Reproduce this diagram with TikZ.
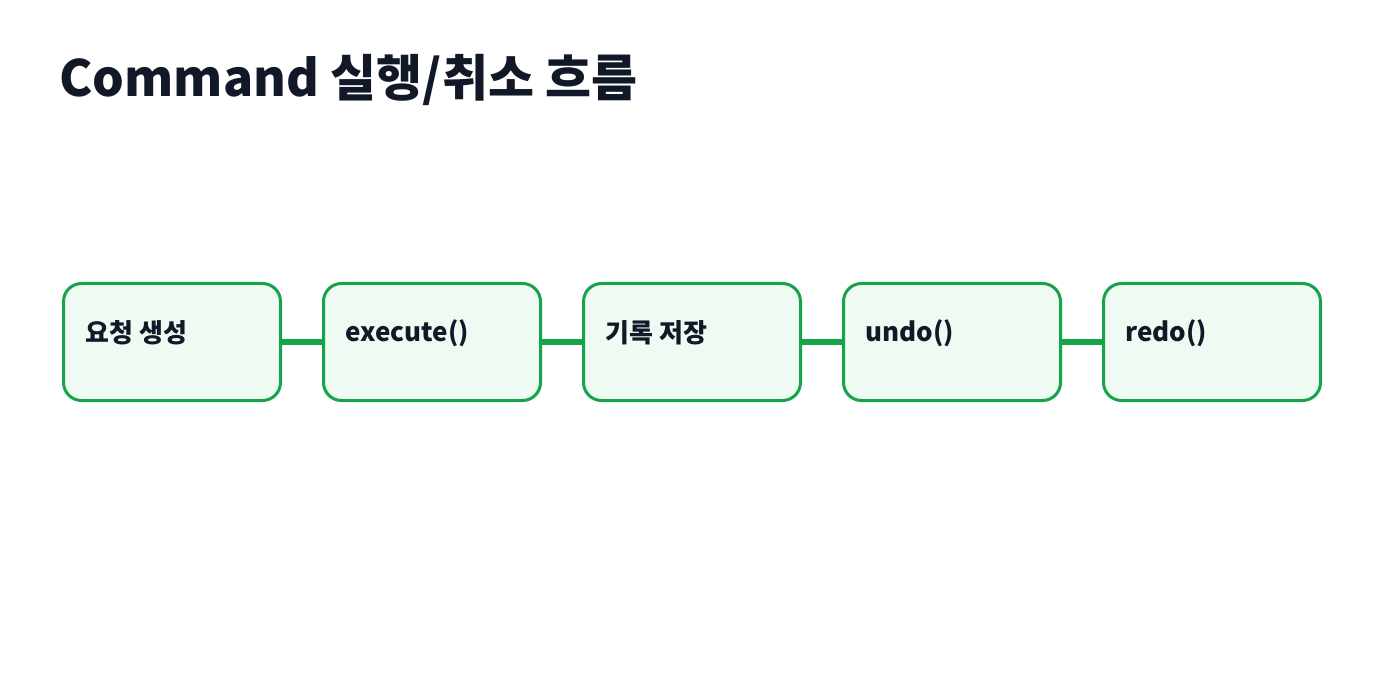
\documentclass[tikz,border=0pt]{standalone}
\usepackage{fontspec}
\setmainfont{Noto Sans CJK KR}
\definecolor{gr}{HTML}{16A34A}
\definecolor{lg}{HTML}{EFFBF2}
\definecolor{ink}{HTML}{111827}
\begin{document}
\begin{tikzpicture}[x=1pt,y=-1pt,
  box/.style={draw=gr,line width=3pt,fill=lg,rounded corners=18pt,minimum width=217pt,minimum height=117pt,anchor=north west},
  lab/.style={anchor=west,font=\fontsize{26}{30}\selectfont\bfseries,text=ink},
  link/.style={draw=gr,line width=6pt}]
\useasboundingbox (0,0) rectangle (1400,700);
\node[anchor=west,font=\fontsize{50}{58}\selectfont\bfseries,text=ink] (t) at (56,80) {Command 실행/취소 흐름};
\foreach \i/\t in {0/요청 생성,1/execute(),2/기록 저장,3/undo(),4/redo()}{
  \node[box] (b\i) at (62+260*\i,282) {};
  \node[lab] (l\i) at (82+260*\i,333) {\t};
}
\foreach \i/\j in {0/1,1/2,2/3,3/4}{
  \draw[link] (b\i.east) -- (b\j.west);
}
\end{tikzpicture}
\end{document}
